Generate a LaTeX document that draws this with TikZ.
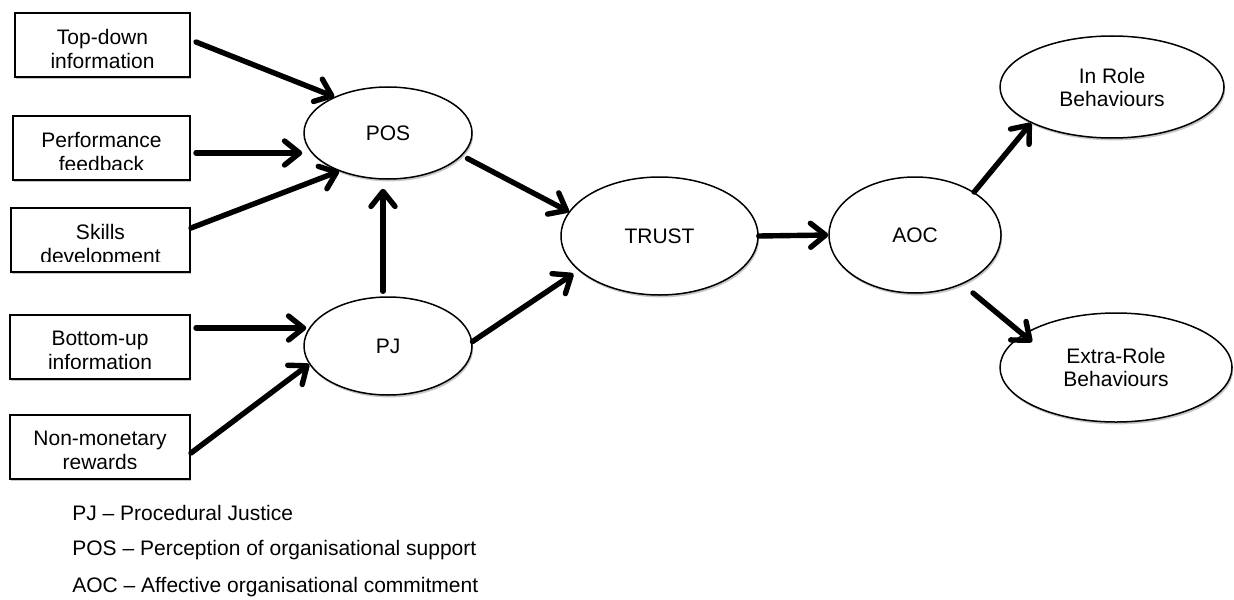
\documentclass[tikz,border=0pt]{standalone}
\usepackage{fontspec}
\setmainfont{Liberation Sans}
\usetikzlibrary{arrows.meta,shapes.geometric,shadows}
\begin{document}
\begin{tikzpicture}[x=0.5pt,y=-0.5pt,
  every node/.style={font=\fontsize{10.5}{12}\selectfont},
  softshadow/.style={drop shadow={shadow xshift=0.6pt,shadow yshift=-1.2pt,opacity=0.22,fill=black}},
  factor/.style={draw,line width=1pt,rectangle,minimum height=32pt,inner sep=0pt,fill=white,softshadow},
  boxtext/.style={anchor=north,align=center,inner sep=0pt},
  construct/.style={draw,line width=0.75pt,ellipse,inner sep=0pt,fill=white,align=center,
    font=\fontsize{10.5}{11.5}\selectfont,softshadow},
  legend/.style={anchor=west,inner sep=0pt},
  link/.style={line width=2.7pt,line cap=round,-{Straight Barb[length=7.5pt,width=12pt,round]}}
]
\useasboundingbox (0,0) rectangle (1234,599);

% antecedent boxes
\node[factor,minimum width=87.5pt] (b1) at (102.5,45) {};
\node[factor,minimum width=88.5pt] (b2) at (101.5,148) {};
\node[factor,minimum width=89.5pt] (b3) at (100.5,240) {};
\node[factor,minimum width=90pt]   (b4) at (100,347) {};
\node[factor,minimum width=90pt]   (b5) at (100,447) {};

% box labels (the lower text lines run past the inner margin and are cut off)
\node[boxtext] (t1) at (102.5,29) {Top-down\\information};
\begin{scope}
  \clip (13,116) rectangle (190,169);
  \node[boxtext] (t2) at (101.5,132) {Performance\\feedback};
\end{scope}
\begin{scope}
  \clip (11,208) rectangle (190,261);
  \node[boxtext] (t3) at (100.5,224) {Skills\\development};
\end{scope}
\begin{scope}
  \clip (10,315) rectangle (190,368);
  \node[boxtext] (t4) at (100,331) {Bottom-up\\information};
\end{scope}
\begin{scope}
  \clip (10,415) rectangle (190,468);
  \node[boxtext] (t5) at (100,431) {Non-monetary\\rewards};
\end{scope}

% constructs
\node[construct,minimum width=84pt,minimum height=46pt]   (pos)    at (388,133)    {POS};
\node[construct,minimum width=84pt,minimum height=49pt]   (pj)     at (388,346)    {PJ};
\node[construct,minimum width=98.5pt,minimum height=59pt] (trust)  at (659.5,236)  {TRUST};
\node[construct,minimum width=86pt,minimum height=58pt]   (aoc)    at (915,235)    {AOC};
\node[construct,minimum width=112pt,minimum height=51pt]  (inrole) at (1112,87)    {In Role\\Behaviours};
\node[construct,minimum width=116pt,minimum height=54.5pt](extra)  at (1116,367.5) {Extra-Role\\Behaviours};

% paths
\draw[link] ([xshift=2.5pt,yshift=1.5pt]b1.east) -- (pos.146);
\path ([xshift=2.5pt,yshift=-2.5pt]b2.east) coordinate (s2);
\draw[link,shorten >=-0.5pt] (s2) -- ([xshift=-1pt]s2 -| pos.west);
\draw[link] ([yshift=6pt]b3.east) -- (pos.218);
\draw[link,shorten <=2.5pt,shorten >=4.5pt] ([xshift=-2.5pt]pj.north) -- ([xshift=-2.5pt]pos.south);
\path ([xshift=2.5pt,yshift=9.5pt]b4.east) coordinate (s4);
\draw[link] (s4) -- ([xshift=1.5pt]s4 -| pj.west);
\draw[link] ([yshift=-3pt]b5.east) -- (pj.193);
\draw[link,shorten <=3pt] (pos.343) -- (trust.165);
\draw[link,shorten >=3pt] (pj.3) -- (trust.203);
\draw[link] (trust.east) -- (aoc.west);
\draw[link] (aoc.36) -- (inrole.204);
\draw[link] ([shift={(29pt,-29pt)}]aoc.center) -- ([shift={(-42pt,12.75pt)}]extra.center);

% legend
\node[legend] (l1) at (72,513) {PJ – Procedural Justice};
\node[legend] (l2) at (72,550) {POS – Perception of organisational support};
\node[legend] (l3) at (72,587) {AOC – Affective organisational commitment};
\end{tikzpicture}
\end{document}
